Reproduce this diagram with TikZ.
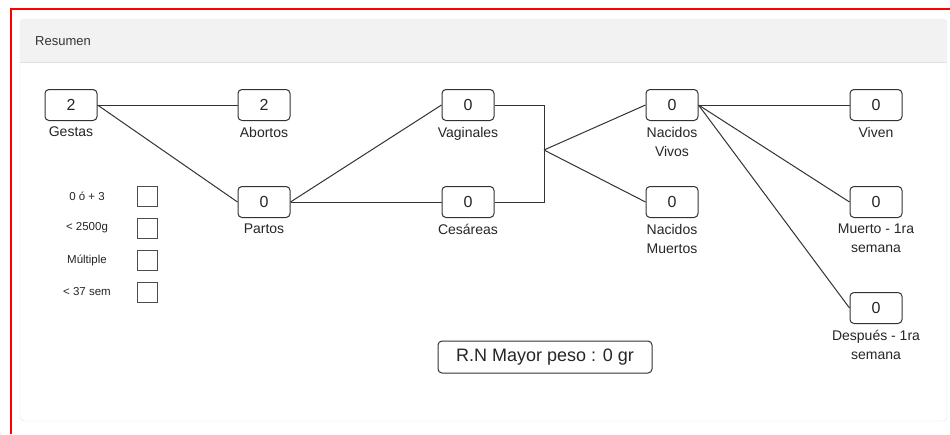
\documentclass[tikz,border=0pt]{standalone}
\usepackage{fontspec}
\setmainfont{Liberation Sans}
\usetikzlibrary{positioning}

\begin{document}
\begin{tikzpicture}[x=1pt, y=-1pt,
    num/.style={rectangle, rounded corners=4pt, draw=black!80, line width=1pt, minimum width=52pt, minimum height=31pt, font=\fontsize{16}{18}\selectfont, text=black!85},
    lbl/.style={align=center, inner sep=0pt, font=\fontsize{14}{19}\selectfont, text=black!85},
    chk/.style={rectangle, draw=black!70, line width=1pt, minimum size=20pt, inner sep=0pt},
    chklbl/.style={inner sep=0pt, font=\fontsize{11.5}{13}\selectfont, text=black!85},
    link/.style={draw=black!80, line width=1pt}]

    \useasboundingbox (0,0) rectangle (950,434);

    % frame
    \draw[red, line width=2pt] (11,434) -- (11,9) -- (950,9);
    \draw[black!12, fill=white, rounded corners=4pt] (20,19) rectangle (947,421);
    \begin{scope}
        \clip[rounded corners=4pt] (20,19) rectangle (947,421);
        \fill[black!5] (20,19) rectangle (947,62);
    \end{scope}
    \draw[black!12] (20,62) -- (947,62);
    \node[anchor=west, inner sep=0pt, font=\fontsize{13}{15}\selectfont, text=black!80] (title) at (35,41) {Resumen};

    % counters
    \node[num] (gestas) at (71,105) {2};
    \node[lbl, below=6pt of gestas] (gestasl) {Gestas};
    \node[num] (abortos) at (264,105) {2};
    \node[lbl, below=6pt of abortos] (abortosl) {Abortos};
    \node[num] (partos) at (264,202) {0};
    \node[lbl, below=6pt of partos] (partosl) {Partos};
    \node[num] (vag) at (468,105) {0};
    \node[lbl, below=6pt of vag] (vagl) {Vaginales};
    \node[num] (ces) at (468,202) {0};
    \node[lbl, below=6pt of ces] (cesl) {Cesáreas};
    \node[num] (vivos) at (672,105) {0};
    \node[lbl, below=6pt of vivos] (vivosl) {Nacidos\\Vivos};
    \node[num] (muertos) at (672,202) {0};
    \node[lbl, below=6pt of muertos] (muertosl) {Nacidos\\Muertos};
    \node[num] (viven) at (876,105) {0};
    \node[lbl, below=6pt of viven] (vivenl) {Viven};
    \node[num] (muerto) at (876,202) {0};
    \node[lbl, below=6pt of muerto] (muertol) {Muerto - 1ra\\semana};
    \node[num] (despues) at (876,308) {0};
    \node[lbl, below=6pt of despues] (despuesl) {Después - 1ra\\semana};

    \node[num, minimum width=214pt, minimum height=32pt, font=\fontsize{18}{20}\selectfont] (peso) at (545,357) {R.N Mayor peso : 0 gr};

    % checklist
    \node[chk] (c1) at (147,196) {};
    \node[chklbl] (c1l) at (87,196) {0 ó + 3};
    \node[chk] (c2) at (147,228) {};
    \node[chklbl] (c2l) at (87,228) {< 2500g};
    \node[chk] (c3) at (147,260) {};
    \node[chklbl] (c3l) at (87,260) {Múltiple};
    \node[chk] (c4) at (147,292) {};
    \node[chklbl] (c4l) at (87,292) {< 37 sem};

    % links
    \coordinate (mid) at (544,150);
    \draw[link] (gestas.east) -- (abortos.west);
    \draw[link] (gestas.east) -- (partos.west);
    \draw[link] (partos.east) -- (vag.west);
    \draw[link] (partos.east) -- (ces.west);
    \draw[link] (vag.east) -| (mid);
    \draw[link] (ces.east) -| (mid);
    \draw[link] (mid) -- (vivos.west);
    \draw[link] (mid) -- (muertos.west);
    \draw[link] (vivos.east) -- (viven.west);
    \draw[link] (vivos.east) -- (muerto.west);
    \draw[link] (vivos.east) -- (despues.west);

\end{tikzpicture}
\end{document}
